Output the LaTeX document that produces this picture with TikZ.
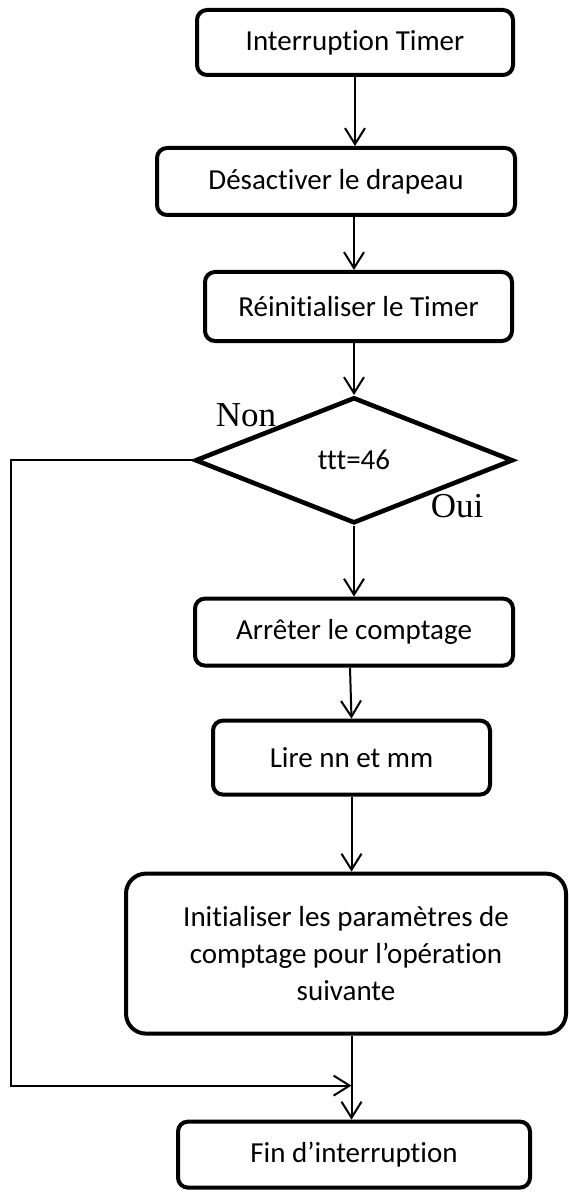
\documentclass[tikz,border=0pt]{standalone}
\usepackage{fontspec}
\setmainfont{Carlito}[Ligatures=NoCommon]
\newfontfamily\labelfont{Liberation Serif}
\usetikzlibrary{arrows.meta,positioning,shapes.geometric,calc}

\begin{document}
\begin{tikzpicture}[
  font=\fontsize{14.5pt}{18.5pt}\selectfont,
  >={Straight Barb[length=8pt,width=10pt]},
  % Styles
  stepbox/.style={draw, line width=2pt, rounded corners=5pt, align=center,
    inner sep=2pt},
  testbox/.style={draw, diamond, line width=2.3pt, aspect=2.5, inner sep=1pt,
    minimum width=159pt, minimum height=63pt},
  branch/.style={font=\labelfont\fontsize{17.5pt}{20pt}\selectfont, inner sep=0pt},
  arrow/.style={->, line width=1pt},
]
\useasboundingbox (0pt,0pt) rectangle (284pt,-596pt);

% === Main column ===
\node[stepbox, minimum width=158pt, minimum height=32.5pt] (timer)
  at (177.5pt,-21.25pt) {Interruption Timer};
\node[stepbox, minimum width=179pt, minimum height=33.5pt,
  below=34.5pt of timer, xshift=-9.5pt] (flag) {Désactiver le drapeau};
\node[stepbox, minimum width=153.5pt, minimum height=34.5pt,
  below=26.5pt of flag, xshift=11.25pt] (reset) {Réinitialiser le Timer};
\node[testbox, below=26pt of reset, xshift=-2.25pt] (dec) {ttt=46};
\node[stepbox, minimum width=159pt, minimum height=33.5pt,
  below=35.5pt of dec] (stop) {Arrêter le comptage};
\node[stepbox, minimum width=138.5pt, minimum height=37pt,
  below=25.5pt of stop, xshift=-1.25pt] (read) {Lire nn et mm};
\node[stepbox, rounded corners=10pt, minimum width=220pt, minimum height=80pt,
  below=37.5pt of read, xshift=-2.75pt] (init)
  {Initialiser les paramètres de\\comptage pour l’opération\\suivante};
\node[stepbox, minimum width=176pt, minimum height=33pt,
  below=42pt of init, xshift=4pt] (end) {Fin d’interruption};

% === Branch labels ===
\node[branch] (non) at ([shift={(-54pt,22.5pt)}]dec) {Non};
\node[branch] (oui) at ([shift={(51.5pt,-23pt)}]dec) {Oui};

% where the loop rejoins
\coordinate (join) at ([yshift=-25pt]init.south -| read);

% === Arrows ===
\draw[arrow] (timer) -- (timer |- flag.north);
\draw[arrow] (flag.south -| dec) -- (reset.north -| dec);
\draw[arrow] (reset.south -| dec) -- (dec.north);
\draw[arrow] (dec.south) -- (stop.north -| dec);
\draw[arrow] ([xshift=-2pt]stop.south) -- (read.north);
\draw[arrow] (read) -- (read |- init.north);
\draw[arrow] (init.south -| read) -- (end.north -| read);
\draw[arrow] (dec.west) -- ++(-91pt,0) |- (join);

\end{tikzpicture}
\end{document}
